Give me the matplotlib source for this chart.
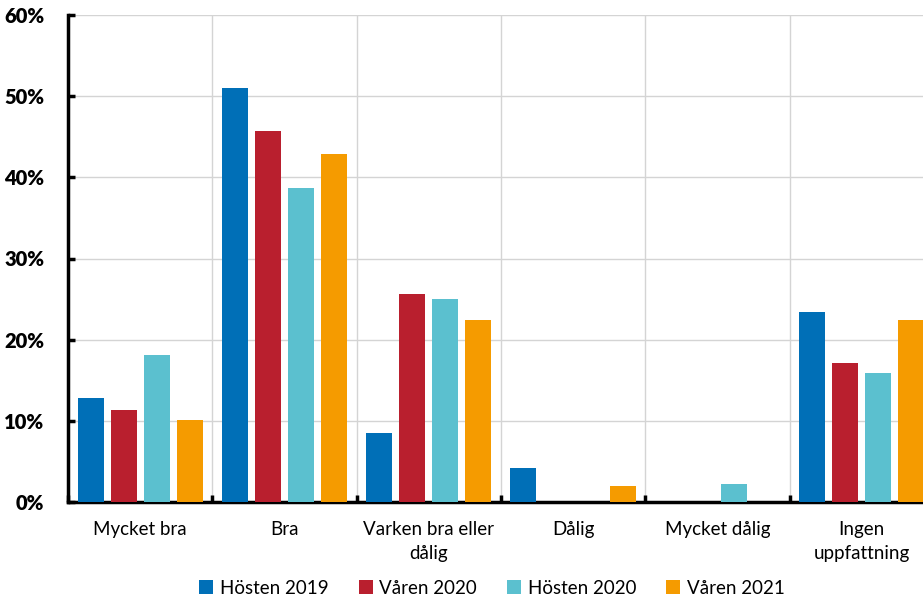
import numpy as np
import matplotlib.pyplot as plt

# data (percent)
categories = ['Mycket bra', 'Bra', 'Varken bra eller\ndålig', 'Dålig',
              'Mycket dålig', 'Ingen\nuppfattning']
series_names = ['Hösten 2019', 'Våren 2020', 'Hösten 2020', 'Våren 2021']
hosten_2019 = [12.8, 51.0, 8.5, 4.2, 0.0, 23.4]
varen_2020 = [11.3, 45.7, 25.6, 0.0, 0.0, 17.1]
hosten_2020 = [18.1, 38.7, 25.0, 0.0, 2.2, 15.9]
varen_2021 = [10.1, 42.9, 22.4, 2.0, 0.0, 22.4]
colors = ['#006fb7', '#b91f2e', '#5bc0cf', '#f59b00']

plt.rcParams['font.family'] = ['Lato', 'DejaVu Sans']

fig = plt.figure(figsize=(9.23, 6.02), dpi=100)
ax = fig.add_axes([68 / 923, 100 / 602, 6 * 144.3 / 923, 487 / 602])

x = np.arange(len(categories))
step = 0.229
width = 0.18
all_series = [hosten_2019, varen_2020, hosten_2020, varen_2021]
for i, (vals, name, c) in enumerate(zip(all_series, series_names, colors)):
    ax.bar(x + (i - 1.5) * step, vals, width, color=c, label=name, zorder=3)

ax.set_xlim(-0.5, len(categories) - 0.5)
ax.set_ylim(0, 60)
ax.set_yticks(range(0, 61, 10))
ax.set_yticklabels([f'{v}%' for v in range(0, 61, 10)],
                   fontsize=14.5, fontweight='heavy')

# category labels in the middle, tick marks on the boundaries
ax.set_xticks(x)
ax.set_xticklabels(categories, fontsize=13.5, linespacing=1.5)
ax.tick_params(axis='x', length=0, pad=14)
ax.set_xticks(np.arange(-0.5, len(categories), 1), minor=True)
ax.tick_params(axis='x', which='minor', direction='in', length=5, width=2.5)
ax.tick_params(axis='y', direction='in', length=5, width=2.5, pad=17)

ax.grid(axis='y', color='#d4d4d4', linewidth=1, zorder=0)
ax.grid(axis='x', which='minor', color='#d4d4d4', linewidth=1, zorder=0)

for s in ['top', 'right']:
    ax.spines[s].set_visible(False)
for s in ['left', 'bottom']:
    ax.spines[s].set_linewidth(2.5)

fig.legend(loc='center', bbox_to_anchor=(0.533, 14 / 602), ncol=4,
           frameon=False, fontsize=13.5, handlelength=0.75, handleheight=0.75,
           handletextpad=0.35, columnspacing=1.6)

fig.savefig('out.png', dpi=100)
